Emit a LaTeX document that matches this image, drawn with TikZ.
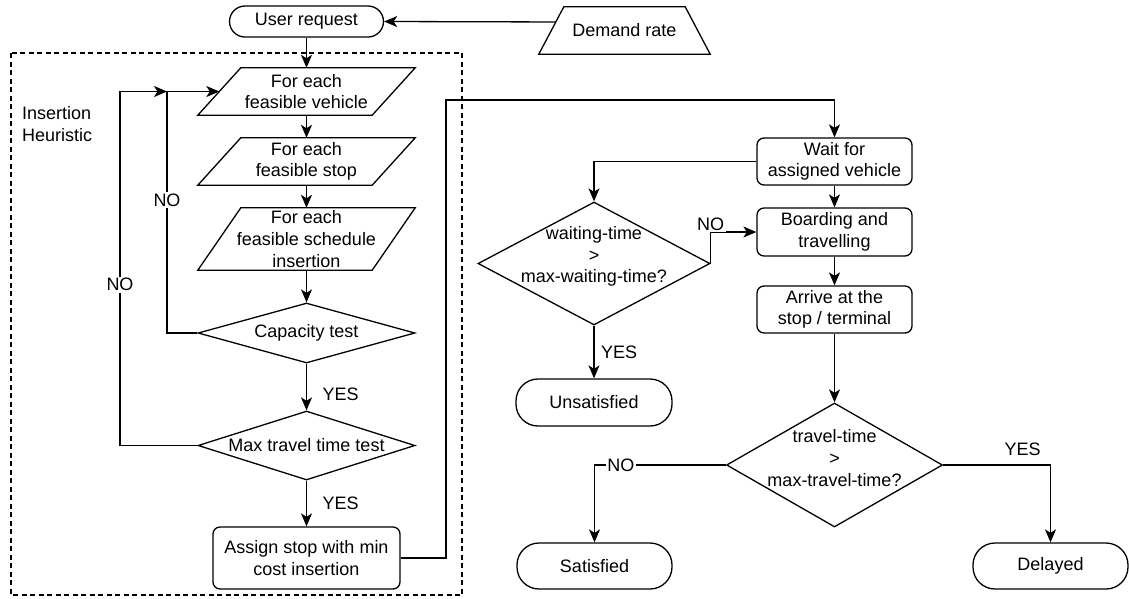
\documentclass[tikz,border=0pt]{standalone}
\usepackage{fontspec}
\setmainfont{Liberation Sans}
\usetikzlibrary{shapes.geometric,arrows.meta,calc}
\begin{document}
\begin{tikzpicture}[x=1pt,y=-1pt,
  every node/.style={font=\fontsize{18}{21.6}\selectfont, align=center, inner sep=0pt},
  base/.style={draw, line width=1.3pt},
  box/.style={base, rectangle, rounded corners=7pt, minimum width=155pt, minimum height=47pt},
  term/.style={base, rectangle, rounded corners=#1, minimum width=155pt},
  % slanted input box: the outline is drawn after the (invisible) rectangle node
  para/.style={rectangle, minimum width=217pt, minimum height=#1,
    append after command={\pgfextra{\let\pnode\tikzlastnode
      \draw[base, line join=miter] ([xshift=43pt]\pnode.north west) -- (\pnode.north east)
        -- ([xshift=-43pt]\pnode.south east) -- (\pnode.south west) -- cycle;}}},
  % manual input trapezoid, narrower at the top
  trap/.style={rectangle, minimum width=171pt, minimum height=47pt,
    append after command={\pgfextra{\let\tnode\tikzlastnode
      \draw[base, line join=miter] ([xshift=25pt]\tnode.north west) -- ([xshift=-25pt]\tnode.north east)
        -- (\tnode.south east) -- (\tnode.south west) -- cycle;}}},
  dec/.style={base, diamond},
  arr/.style={base, -{Stealth[length=13pt,width=11pt,inset=3.5pt]}},
  lab/.style={inner sep=1.5pt},
  labw/.style={inner sep=1.5pt, fill=white}]

\useasboundingbox (0,0) rectangle (1129,598);

% group frame around the insertion heuristic
\draw[line width=1.1pt, dash pattern=on 5pt off 3.5pt] (11,53) rectangle (462,595);
\node[anchor=west, align=left] (ih) at (22,124) {Insertion\\Heuristic};

% input nodes
\node[term=15.5pt, minimum width=154pt, minimum height=31pt] (user) at (306.5,21.5) {User request};
\node[trap] (dem) at (624.5,30.5) {Demand rate};

% insertion heuristic column
\node[para=47pt] (veh) at (306.5,91.5) {For each\\feasible vehicle};
\node[para=47pt] (stp) at (306.5,161.5) {For each\\feasible stop};
\node[para=62pt] (sch) at (306.5,239) {For each\\feasible schedule\\insertion};
\node[dec, minimum width=217pt, minimum height=60pt, label={center:Capacity test}] (cap) at (306.5,333) {};
\node[dec, minimum width=217pt, minimum height=69pt, label={center:Max travel time test}] (mx) at (306.5,445.5) {};
\node[box, minimum width=187pt, minimum height=62pt] (asg) at (306.5,558) {Assign stop with min\\cost insertion};

% operation column
\node[box] (wait) at (834.5,161.5) {Wait for\\assigned vehicle};
\node[box, minimum height=48pt] (board) at (834.5,232) {Boarding and\\travelling};
\node[box] (arrive) at (834.5,309.5) {Arrive at the\\stop / terminal};
\node[dec, minimum width=232pt, minimum height=123pt,
      label={[yshift=7pt]center:waiting-time\\>\\max-waiting-time?}] (wdec) at (594,263.5) {};
\node[term=22pt, minimum width=156pt, minimum height=47pt] (uns) at (594,402.5) {Unsatisfied};
\node[dec, minimum width=216pt, minimum height=124pt,
      label={[yshift=7pt]center:travel-time\\>\\max-travel-time?}] (tdec) at (834.5,465) {};
\node[term=22pt, minimum height=46pt] (sat) at (594.5,566) {Satisfied};
\node[term=22pt, minimum height=46pt] (del) at (1050.5,566) {Delayed};

% helper points for the loops and the long connector
\coordinate (vehin) at ($(veh.west)+(21.5,0)$);
\coordinate (jn) at (167,0 |- veh.west);
\coordinate (outer) at (120,0 |- veh.west);
\coordinate (bend) at (446,100);
\coordinate (demout) at ($(dem.south west)!0.68!([xshift=25pt]dem.north west)$);

% connectors
\draw[arr] (demout) -- (user.east);
\draw[arr] (user.south) -- (veh.north);
\draw[arr] (veh.south) -- (stp.north);
\draw[arr] (stp.south) -- (sch.north);
\draw[arr] (sch.south) -- (cap.north);
\draw[arr] (cap.south) -- node[lab, pos=0.65, anchor=west, xshift=14pt] {YES} (mx.north);
\draw[arr] (mx.south) -- node[lab, pos=0.5, anchor=west, xshift=14pt] {YES} (asg.north);
\draw[arr] (cap.west) -| node[labw, pos=0.775] {NO} (jn) -- (vehin);
\draw[arr] (mx.west) -| node[labw, pos=0.727] {NO} (outer) -- (jn);
\draw[arr] (asg.east) -| (bend) -| (wait.north);
\draw[arr] (wait.south) -- (board.north);
\draw[arr] (board.south) -- (arrive.north);
\draw[arr] (arrive.south) -- (tdec.north);
\draw[arr] (wait.west) -| (wdec.north);
\draw[arr] (wdec.east) |- node[labw, pos=0.5, yshift=8pt] {NO} (board.west);
\draw[arr] (wdec.south) -- node[lab, pos=0.5, anchor=west, xshift=5pt] {YES} (uns.north);
\draw[arr] (tdec.west) -| node[labw, pos=0.4] {NO} (sat.north);
\draw[arr] (tdec.east) -| node[lab, pos=0.37, yshift=16pt] {YES} (del.north);
\end{tikzpicture}
\end{document}
